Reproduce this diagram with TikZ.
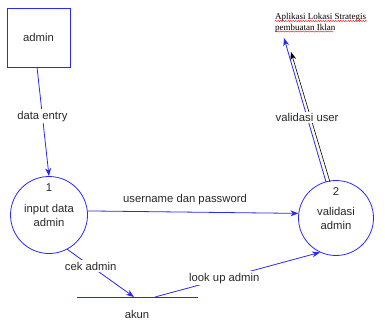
\documentclass[tikz,border=0pt]{standalone}
\usepackage{fontspec}
\setmainfont{Liberation Sans}
\newfontfamily\serifft{Liberation Serif}
\usetikzlibrary{arrows.meta,decorations.pathmorphing,calc}
\definecolor{dfdblue}{RGB}{40,40,250}
\definecolor{txt}{RGB}{40,40,40}
\tikzset{
  x=1pt,y=-1pt,
  lblfont/.style={font=\fontsize{11.3}{14}\selectfont},
  entity/.style={draw=dfdblue,line width=0.8pt,minimum width=63pt,minimum height=59pt,inner sep=0pt,text=txt,lblfont},
  proc/.style={draw=dfdblue,line width=0.8pt,circle,inner sep=0pt},
  ptext/.style={text=txt,lblfont,inner sep=0pt},
  flow/.style={draw=dfdblue,line width=0.8pt,-{Stealth[length=8pt,width=6pt]}},
  plain/.style={draw=dfdblue,line width=0.8pt},
  flowlabel/.style={fill=white,text=txt,lblfont,inner sep=1.5pt},
  tgttext/.style={text=black,font=\serifft\fontsize{9}{10.5}\selectfont,inner sep=0pt,anchor=base west},
  squiggle/.style={red,line width=0.4pt,decorate,decoration={snake,amplitude=0.6pt,segment length=2.5pt}},
}
\begin{document}
\begin{tikzpicture}
\useasboundingbox (0,0) rectangle (385,327);
% external entity
\node[entity] (admin) at (38.5,37.5) {admin};
% processes
\node[proc,minimum size=77pt] (p1) at (49,215) {};
\node[ptext] (p1n) at (49,188) {1};
\node[ptext,align=center] (p1t) at (49,215) {input data\\admin};
\node[proc,minimum size=75pt] (p2) at (336,218) {};
\node[ptext] (p2n) at (336,192) {2};
\node[ptext,align=center] (p2t) at (336,218) {validasi\\admin};
% data store
\coordinate (akunL) at (77,297);
\coordinate (akunR) at (198,297);
\coordinate (akunIn) at (134,297);
\coordinate (akunOut) at (155,297);
\draw[plain] (akunL) -- (akunR);
\node[ptext] (akun) at (137,314) {akun};
% target
\node[tgttext] (target1) at (275,19.5) {Aplikasi Lokasi Strategis};
\node[tgttext] (target2) at (275,30) {pembuatan Iklan};
\draw[squiggle] (target1.base west) ++(0,1.5) -- ++(92,0);
\draw[squiggle] (target2.base west) ++(0,1.5) -- ++(58,0);
\coordinate (tgtBlue) at (284,38);
\coordinate (tgtBlack) at (291,52);
\coordinate (p2top) at (326,182);
\coordinate (p2topb) at (330,182);
% flows
\draw[flow] (37,67) -- node[flowlabel,pos=0.45] (lde) {data entry} (p1.north);
\draw[flow] (p1.6) -- (p2.173);
\node[ptext] (lup) at (185,200) {username dan password};
\draw[flow] (p1.-62) -- node[flowlabel,pos=0.35] (lcek) {cek admin} (akunIn);
\draw[flow] (akunOut) -- node[flowlabel,pos=0.42] (llook) {look up admin} (p2.-115);
\draw[black,line width=0.6pt,-{Stealth[length=8pt,width=6pt]}] (p2topb) -- (tgtBlack);
\draw[flow] (p2top) -- node[flowlabel,pos=0.45] (lval) {validasi user} (tgtBlue);
\end{tikzpicture}
\end{document}
